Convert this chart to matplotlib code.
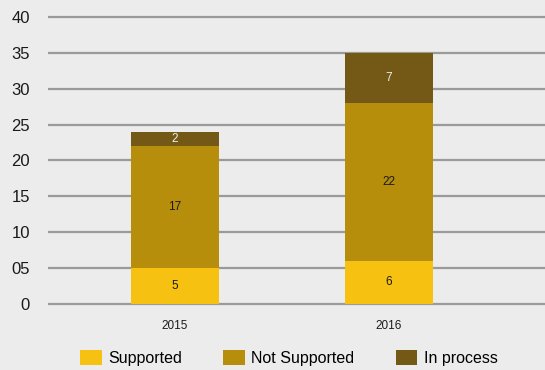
import matplotlib.pyplot as plt
from matplotlib.patches import Patch
import numpy as np

plt.rcParams['font.family'] = ['Liberation Sans', 'DejaVu Sans']

years = ['2015', '2016']
supported = [5, 6]
not_supported = [17, 22]
in_process = [2, 7]
yticks = [0, 5, 10, 15, 20, 25, 30, 35, 40]
ytick_labels = ['0', '05', '10', '15', '20', '25', '30', '35', '40']

colors = ['#f6c111', '#b68e0c', '#735915']
names = ['Supported', 'Not Supported', 'In process']
label_colors = ['#1a1a1a', '#1a1a1a', '#eeeeee']
bg = '#ececec'

fig = plt.figure(figsize=(5.45, 3.70), dpi=100, facecolor=bg)
ax = fig.add_axes([0.088, 0.1726, 0.912, 0.7873])
ax.set_facecolor(bg)

x = np.arange(len(years))
bottom = np.zeros(len(years))
for vals, c, lc in zip([supported, not_supported, in_process], colors, label_colors):
    vals = np.array(vals, dtype=float)
    ax.bar(x, vals, bottom=bottom, width=0.41, color=c, zorder=3)
    for xi, b, v in zip(x, bottom, vals):
        ax.text(xi, b + v / 2, f'{v:g}', ha='center', va='center',
                fontsize=8.5, color=lc, zorder=4)
    bottom += vals

ax.set_xlim(-0.593, 1.729)
ax.set_ylim(-0.3, 40.3)
ax.set_yticks(yticks)
ax.set_yticklabels(ytick_labels, fontsize=12, color='#1a1a1a')
ax.set_xticks(x)
ax.set_xticklabels(years, fontsize=8.5, color='#1a1a1a')
ax.tick_params(length=0)
ax.tick_params(axis='y', pad=13)
ax.tick_params(axis='x', pad=10)
for s in ax.spines.values():
    s.set_visible(False)
ax.yaxis.grid(True, color='#9a9a9a', linewidth=1.6, zorder=1)

handles = [Patch(facecolor=c, edgecolor='none') for c in colors]
fig.legend(handles, names, loc='center', bbox_to_anchor=(0.53, 0.033),
           ncol=3, frameon=False, fontsize=11.5, handlelength=1.35,
           handleheight=1.05, handletextpad=0.4, columnspacing=2.6)

fig.savefig('out.png', dpi=100, facecolor=bg)
